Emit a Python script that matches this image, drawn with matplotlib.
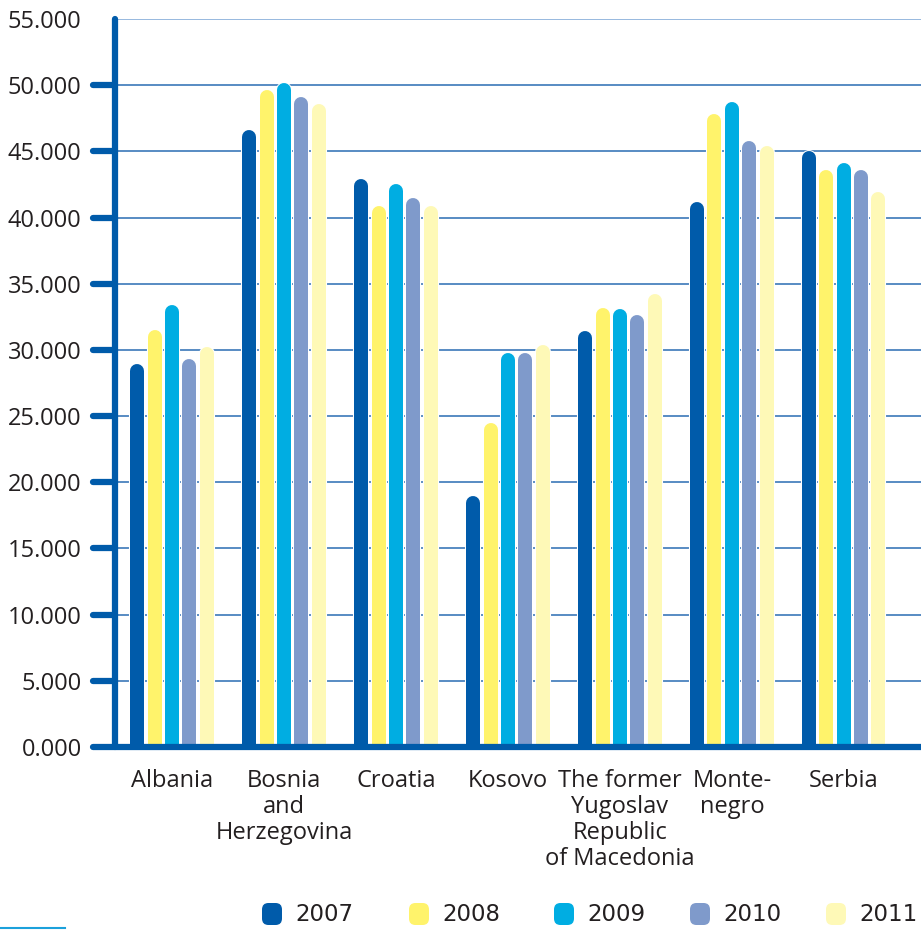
import matplotlib
matplotlib.use("Agg")
import matplotlib.pyplot as plt
import matplotlib.patheffects as pe
from matplotlib.lines import Line2D
from matplotlib.patches import FancyBboxPatch
from matplotlib.ticker import FuncFormatter
import numpy as np

countries = ["Albania", "Bosnia\nand\nHerzegovina", "Croatia", "Kosovo",
             "The former\nYugoslav\nRepublic\nof Macedonia", "Monte-\nnegro", "Serbia"]
years = ["2007", "2008", "2009", "2010", "2011"]
v2007 = [28900, 46600, 42900, 19000, 31400, 41200, 45000]
v2008 = [31500, 49600, 40900, 24500, 33200, 47800, 43600]
v2009 = [33400, 50200, 42500, 29800, 33100, 48700, 44100]
v2010 = [29300, 49100, 41500, 29800, 32600, 45800, 43600]
v2011 = [30200, 48600, 40900, 30400, 34200, 45400, 41900]
series = [v2007, v2008, v2009, v2010, v2011]
colors = ["#005baa", "#fff36b", "#00ade2", "#7f9acb", "#fef9b7"]

blue = "#005baa"
text_col = "#231f20"
plt.rcParams["font.family"] = ["Open Sans", "DejaVu Sans"]

W, H, DPI = 9.21, 9.30, 100
fig = plt.figure(figsize=(W, H), dpi=DPI)
left, bottom, top = 115 / 921, 183 / 930, 911 / 930
ax = fig.add_axes([left, bottom, 1 - left, top - bottom])

ymax = 55000
ax.set_ylim(0, ymax)
ax.set_xlim(-0.51, 6.69)

# bar geometry: drawn as thick round-capped lines so the tops are rounded
bar_px = 14
pitch = 0.155
ax_h_px = (top - bottom) * H * DPI
r_data = (bar_px / 2) * ymax / ax_h_px
lw_pt = bar_px * 72 / DPI

x = np.arange(len(countries))
for i, (vals, c) in enumerate(zip(series, colors)):
    xs = x + (i - 2) * pitch
    for xi, v in zip(xs, vals):
        ax.plot([xi, xi], [0, v - r_data], color=c, lw=lw_pt,
                solid_capstyle="round", zorder=3,
                path_effects=[pe.withStroke(linewidth=lw_pt + 1.5, foreground="white")])

# horizontal grid
ticks = np.arange(0, ymax + 1, 5000)
for t in ticks[1:]:
    ax.axhline(t, color="#2a6cb3" if t < ymax else "#7aa6d6", lw=1.1, zorder=1)

# axis lines
for s in ["top", "right", "bottom", "left"]:
    ax.spines[s].set_visible(False)
ax_w_px = (1 - left) * W * DPI
ax.plot([0, 0], [0, ymax], color=blue, lw=4.5, solid_capstyle="round",
        transform=ax.get_yaxis_transform(), clip_on=False, zorder=5)
ax.plot([-22 / ax_w_px, 1], [0, 0], color=blue, lw=4.5, solid_capstyle="round",
        transform=ax.get_yaxis_transform(), clip_on=False, zorder=5)
for t in ticks[1:-1]:
    ax.plot([-22 / ax_w_px, 0], [t, t], color=blue, lw=4.5, solid_capstyle="round",
            transform=ax.get_yaxis_transform(), clip_on=False, zorder=5)

ax.set_yticks(ticks)
ax.yaxis.set_major_formatter(FuncFormatter(lambda v, p: f"{v / 1000:.3f}"))
ax.tick_params(axis="y", length=0, pad=24, labelsize=17, labelcolor=text_col)

ax.set_xticks(x)
ax.set_xticklabels(countries, linespacing=1.1)
ax.tick_params(axis="x", length=0, pad=16, labelsize=17, labelcolor=text_col)

# legend row
leg_x = [262, 409, 554, 690, 826]
for lx, yr, c in zip(leg_x, years, colors):
    fig.add_artist(FancyBboxPatch((lx / 921, 5 / 930), 20 / 921, 22 / 930,
                                  boxstyle="round,pad=0,rounding_size=0.007",
                                  transform=fig.transFigure, fc=c, ec="none"))
    fig.text((lx + 33) / 921, 16 / 930, yr, fontsize=16.5, color=text_col,
             va="center", ha="left",
             family=["Liberation Sans Narrow", "DejaVu Sans"])

fig.add_artist(Line2D([0, 65 / 921], [2 / 930, 2 / 930], color="#1ba1db", lw=1.5,
                      transform=fig.transFigure))

fig.savefig("out.png", dpi=DPI)
